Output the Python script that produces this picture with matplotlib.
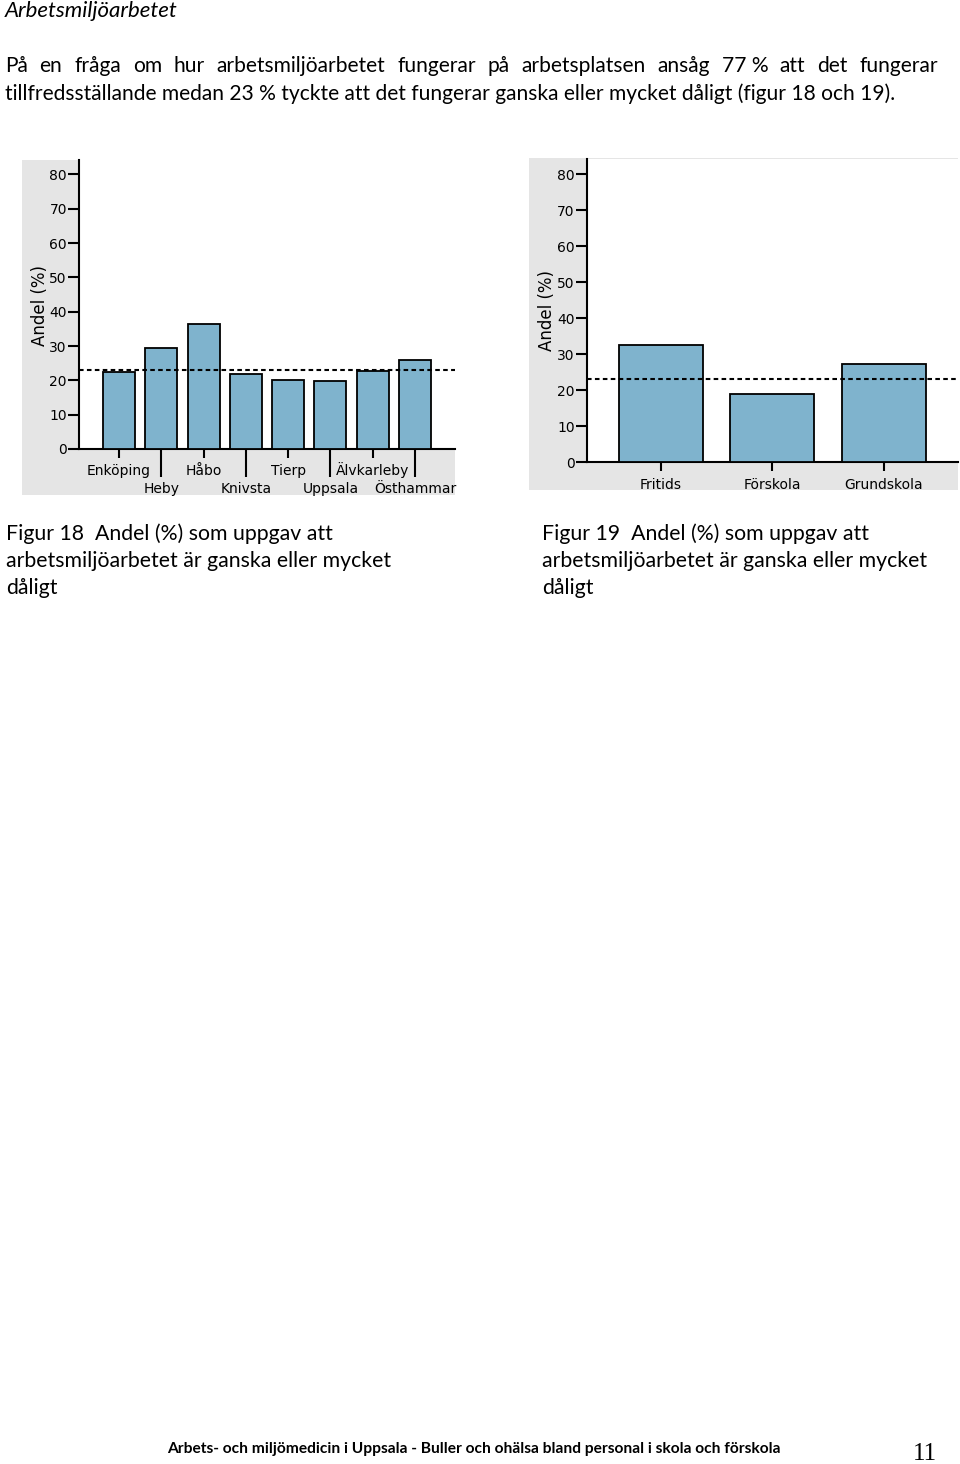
import matplotlib
matplotlib.use("Agg")
import matplotlib.pyplot as plt
from matplotlib.patches import Rectangle

# ---------------- data ----------------
kommuner = ["Enköping", "Heby", "Håbo", "Knivsta", "Tierp", "Uppsala", "Älvkarleby", "Östhammar"]
kommun_values = [22.3, 29.3, 36.4, 21.8, 20.1, 19.9, 22.7, 25.8]

verksamheter = ["Fritids", "Förskola", "Grundskola"]
verksamhet_values = [32.6, 18.9, 27.4]

reference_level = 23
y_ticks = [0, 10, 20, 30, 40, 50, 60, 70, 80]
y_label = "Andel (%)"

title_text = "Arbetsmiljöarbetet"
body_line1 = "På en fråga om hur arbetsmiljöarbetet fungerar på arbetsplatsen ansåg 77 % att det fungerar"
body_line2 = "tillfredsställande medan 23 % tyckte att det fungerar ganska eller mycket dåligt (figur 18 och 19)."
caption18 = ["Figur 18  Andel (%) som uppgav att",
             "arbetsmiljöarbetet är ganska eller mycket",
             "dåligt"]
caption19 = ["Figur 19  Andel (%) som uppgav att",
             "arbetsmiljöarbetet är ganska eller mycket",
             "dåligt"]
footer_text = "Arbets- och miljömedicin i Uppsala - Buller och ohälsa bland personal i skola och förskola"
page_number = "11"

# ---------------- style ----------------
W, H, DPI = 960, 1464, 100
BAR_COLOR = "#7fb3cd"
PANEL_GREY = "#e5e5e5"
CHART_FONT = "DejaVu Sans"
CHART_FS = 10
BODY_FONT = "Lato"

fig = plt.figure(figsize=(W / DPI, H / DPI), dpi=DPI)
fig.patch.set_facecolor("white")
renderer = fig.canvas.get_renderer()


def fy(y):
    return 1 - y / H


def text_width(s, **kw):
    t = fig.text(0, 0, s, **kw)
    w = t.get_window_extent(renderer).width
    t.remove()
    return w


def fit_size(s, target, base=12.0, **kw):
    return base * target / text_width(s, fontsize=base, **kw)


def px_text(x, y, s, **kw):
    return fig.text(x / W, fy(y), s, **kw)


def add_axes_px(left, top, right, bottom):
    return fig.add_axes([left / W, 1 - bottom / H, (right - left) / W, (bottom - top) / H])


def grey_panel(left, top, right, bottom):
    fig.add_artist(Rectangle((left / W, fy(bottom)), (right - left) / W, (bottom - top) / H,
                             transform=fig.transFigure, facecolor=PANEL_GREY,
                             edgecolor="none", zorder=-5))


def style_axes(ax):
    ax.set_facecolor("white")
    for s in ("top", "right"):
        ax.spines[s].set_visible(False)
    for s in ("left", "bottom"):
        ax.spines[s].set_linewidth(1.5)
        ax.spines[s].set_color("black")
    ax.set_ylim(0, 84.2)
    ax.set_yticks(y_ticks)
    ax.set_yticklabels([str(v) for v in y_ticks], fontsize=CHART_FS, family=CHART_FONT)
    ax.tick_params(axis="y", direction="out", length=7.7, width=1.5, pad=1.0, colors="black")
    ax.axhline(reference_level, color="black", lw=1.5, ls=(0, (2.2, 1.6)), zorder=5)


# ---------------- text block ----------------
title_fs = fit_size(title_text, 172, family=BODY_FONT, style="italic")
px_text(5, 17.3, title_text, fontsize=title_fs, family=BODY_FONT, style="italic", va="baseline")

body_fs = fit_size(body_line2, 890, family=BODY_FONT)
px_text(5, 100, body_line2, fontsize=body_fs, family=BODY_FONT, va="baseline")

# justified first line
raw = body_line1.split(" ")
tokens = []
for w in raw:
    if w == "%" and tokens:
        tokens[-1] = tokens[-1] + " %"
    else:
        tokens.append(w)
widths = [text_width(t, fontsize=body_fs, family=BODY_FONT) for t in tokens]
left_x, right_x = 5, 938
gap = (right_x - left_x - sum(widths)) / (len(tokens) - 1)
x = left_x
for t, w in zip(tokens, widths):
    px_text(x, 72.5, t, fontsize=body_fs, family=BODY_FONT, va="baseline")
    x += w + gap

cap_fs = fit_size(caption18[1], 383, family=BODY_FONT)
for i, line in enumerate(caption18):
    px_text(6, 539.5 + i * 27.5, line, fontsize=cap_fs, family=BODY_FONT, va="baseline")
for i, line in enumerate(caption19):
    px_text(542, 539.5 + i * 27.5, line, fontsize=cap_fs, family=BODY_FONT, va="baseline")

foot_fs = fit_size(footer_text, 609, family=BODY_FONT, weight="bold")
px_text(167, 1453, footer_text, fontsize=foot_fs, family=BODY_FONT, weight="bold", va="baseline")
px_text(937, 1460, page_number, fontsize=18, family="Liberation Serif", ha="right", va="baseline")

# ---------------- left chart (Figur 18) ----------------
grey_panel(22, 160, 455, 495)
ax1 = add_axes_px(79, 160, 455, 449)
style_axes(ax1)
pos1 = list(range(len(kommuner)))
ax1.bar(pos1, kommun_values, width=0.757, color=BAR_COLOR, edgecolor="black", linewidth=1.3, zorder=3)
ax1.set_xlim(-0.945, len(kommuner) - 1 + 0.945)
ax1.set_xticks(pos1[0::2])
ax1.set_xticklabels(kommuner[0::2], fontsize=CHART_FS, family=CHART_FONT, va="baseline")
ax1.set_xticks(pos1[1::2], minor=True)
ax1.set_xticklabels(kommuner[1::2], minor=True, fontsize=CHART_FS, family=CHART_FONT, va="baseline")
ax1.tick_params(axis="x", which="major", direction="out", length=6.5, width=1.5, pad=12.0)
ax1.tick_params(axis="x", which="minor", direction="out", length=20, width=1.5, pad=11.8)
px_text(40, 305, y_label, fontsize=12, family=CHART_FONT, rotation=90, ha="center", va="center")

# ---------------- right chart (Figur 19) ----------------
grey_panel(529, 158, 958, 490)
ax2 = add_axes_px(586.7, 159, 958, 462.3)
style_axes(ax2)
pos2 = list(range(len(verksamheter)))
ax2.bar(pos2, verksamhet_values, width=0.752, color=BAR_COLOR, edgecolor="black", linewidth=1.3, zorder=3)
ax2.set_xlim(-0.665, len(verksamheter) - 1 + 0.665)
ax2.set_xticks(pos2)
ax2.set_xticklabels(verksamheter, fontsize=CHART_FS, family=CHART_FONT)
ax2.tick_params(axis="x", direction="out", length=6.7, width=1.5, pad=4.3)
px_text(547.5, 310.5, y_label, fontsize=12, family=CHART_FONT, rotation=90, ha="center", va="center")

fig.savefig("out.png", dpi=DPI, facecolor="white")
